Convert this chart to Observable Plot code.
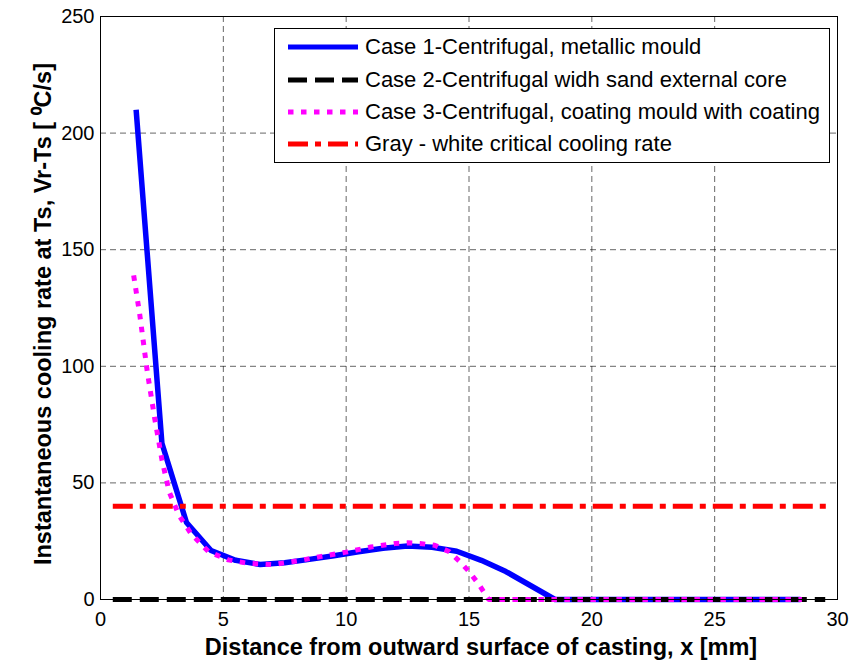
<!DOCTYPE html>
<html>
<head>
<meta charset="utf-8">
<script src="https://cdn.jsdelivr.net/npm/d3@7"></script>
<script src="https://cdn.jsdelivr.net/npm/@observablehq/plot@0.6"></script>
<style>
  body { margin: 0; background: white; }
  #wrap { position: relative; width: 853px; height: 666px; font-family: "Liberation Sans", Arial, sans-serif; }
  #legend { position: absolute; left: 274px; top: 28px; width: 556px; height: 135px; box-sizing: border-box;
            border: 1.5px solid black; background: white; }
  .row { position: absolute; left: 0; height: 30px; display: flex; align-items: center; }
  .row svg { margin-left: 13px; margin-right: 7px; }
  .row span { font-size: 22px; color: black; white-space: nowrap; }
</style>
</head>
<body>
<div id="wrap"><div id="legend"></div></div>
<script>
// ---- data ----
const xTicks = [0, 5, 10, 15, 20, 25, 30];
const yTicks = [0, 50, 100, 150, 200, 250];

const case1X = [1.45, 2.5, 3.5, 4.5, 5.5, 6.5, 7.5, 8.5, 9.5, 10.5, 11.5, 12.5, 13.5, 14.5, 15.5, 16.5, 17.5, 18.5, 19.5, 20.5, 21.5, 22.5, 23.5, 24.5, 25.5, 26.5, 27.5, 28.5];
const case1Y = [210, 67, 33, 21, 16.8, 15, 15.8, 17.2, 18.8, 20.5, 22, 22.9, 22.4, 20.7, 16.8, 12, 6, 0, 0, 0, 0, 0, 0, 0, 0, 0, 0, 0];

const case2X = [0.5, 29.5];
const case2Y = [0, 0];

const case3X = [1.35, 1.6, 1.9, 2.2, 2.5, 2.8, 3.2, 3.7, 4.4, 5.2, 6.0, 7.0, 8.0, 9.0, 10.0, 11.0, 12.0, 12.5, 13.0, 13.6, 14.2, 14.6, 15.0, 15.4, 15.8, 28.55];
const case3Y = [139, 122, 98, 78, 60, 46, 36, 28, 20.5, 17, 15.5, 15, 16.5, 18.5, 20.3, 22.5, 24, 24.3, 24, 23.3, 20.5, 16.5, 12, 6.5, 0, 0];

const critX = [0.5, 29.8];
const critY = [40, 40];

const seriesNames = [
  "Case 1-Centrifugal, metallic mould",
  "Case 2-Centrifugal widh sand external core",
  "Case 3-Centrifugal, coating mould with coating",
  "Gray - white critical cooling rate"
];
const seriesColors = ["#0000ff", "#000000", "#ff00ff", "#ff0000"];
const seriesDash = [null, "19,8", "5.5,7.5", "20,7,6,7"];

const xLabel = "Distance from outward surface of casting, x [mm]";
const yLabel = "Instantaneous cooling rate at Ts, Vr-Ts [ \u2070C/s]";

// ---- build ----
const toRows = (xs, ys) => xs.map((x, i) => ({x, y: ys[i]}));
const s1 = toRows(case1X, case1Y);
const s2 = toRows(case2X, case2Y);
const s3 = toRows(case3X, case3Y);
const s4 = toRows(critX, critY);

const lineOpts = (k) => ({x: "x", y: "y", stroke: seriesColors[k], strokeWidth: k === 0 ? 5.5 : 5,
  strokeDasharray: seriesDash[k] || undefined, strokeLinecap: "butt", strokeLinejoin: "round"});

const chart = Plot.plot({
  width: 853,
  height: 666,
  marginLeft: 100,
  marginRight: 16,
  marginTop: 16,
  marginBottom: 67,
  style: {fontFamily: "'Liberation Sans', Arial, sans-serif", fontSize: "20px", background: "white", color: "black"},
  x: {domain: [0, 30]},
  y: {domain: [0, 250]},
  marks: [
    Plot.gridX(xTicks, {stroke: "#000", strokeOpacity: 0.6, strokeDasharray: "6,4"}),
    Plot.gridY(yTicks, {stroke: "#000", strokeOpacity: 0.6, strokeDasharray: "6,4"}),
    Plot.line(s1, lineOpts(0)),
    Plot.line(s2, lineOpts(1)),
    Plot.line(s3, lineOpts(2)),
    Plot.line(s4, lineOpts(3)),
    Plot.frame({stroke: "black", strokeWidth: 1}),
    Plot.axisX(xTicks, {anchor: "bottom", tickSize: 0, tickPadding: 12, fontSize: 20, label: null}),
    Plot.axisY(yTicks, {anchor: "left", tickSize: 0, tickPadding: 6, fontSize: 20, label: null}),
    Plot.text([xLabel], {frameAnchor: "bottom", textAnchor: "middle", dy: 55, dx: 12, text: d => d, fontWeight: "bold", fontSize: 23.5}),
    Plot.text([yLabel], {frameAnchor: "left", textAnchor: "middle", dx: -57, dy: 6, rotate: -90, text: d => d, fontWeight: "bold", fontSize: 23.5})
  ]
});

document.getElementById("wrap").insertBefore(chart, document.getElementById("legend"));

// ---- legend ----
const legend = document.getElementById("legend");
const rowTops = [3, 36, 68, 100];
seriesNames.forEach((name, k) => {
  const row = document.createElement("div");
  row.className = "row";
  row.style.top = rowTops[k] + "px";
  const svgNS = "http://www.w3.org/2000/svg";
  const svg = document.createElementNS(svgNS, "svg");
  svg.setAttribute("width", 70);
  svg.setAttribute("height", 10);
  const ln = document.createElementNS(svgNS, "line");
  ln.setAttribute("x1", 0); ln.setAttribute("x2", 70);
  ln.setAttribute("y1", 5); ln.setAttribute("y2", 5);
  ln.setAttribute("stroke", seriesColors[k]);
  ln.setAttribute("stroke-width", 5);
  if (seriesDash[k]) ln.setAttribute("stroke-dasharray", seriesDash[k]);
  svg.appendChild(ln);
  const span = document.createElement("span");
  span.textContent = name;
  row.appendChild(svg);
  row.appendChild(span);
  legend.appendChild(row);
});
</script>
</body>
</html>
